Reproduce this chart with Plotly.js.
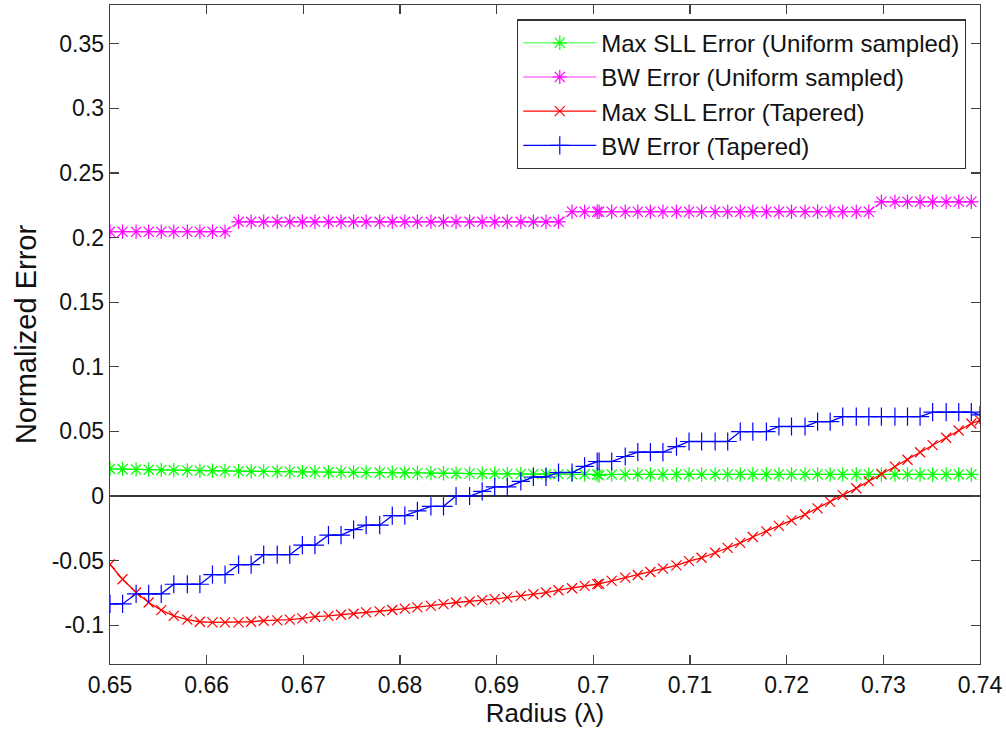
<!DOCTYPE html>
<html>
<head>
<meta charset="utf-8">
<script src="https://cdn.plot.ly/plotly-3.0.1.min.js"></script>
<style>
  html, body { margin: 0; padding: 0; background: #ffffff; }
  #chart { width: 1006px; height: 734px; }
</style>
</head>
<body>
<div id="chart"></div>
<script>
// Radius samples (lambda) for the uniform-sampled series
const radiusUniform = [
  0.6500, 0.6513, 0.6527, 0.6540, 0.6553, 0.6566, 0.6580, 0.6593, 0.6606, 0.6619,
  0.6633, 0.6646, 0.6659, 0.6673, 0.6686, 0.6699, 0.6712, 0.6726, 0.6739, 0.6752,
  0.6765, 0.6779, 0.6792, 0.6805, 0.6818, 0.6832, 0.6845, 0.6858, 0.6872, 0.6885,
  0.6898, 0.6911, 0.6925, 0.6938, 0.6951, 0.6964, 0.6978, 0.6991, 0.7004,
  0.7006, 0.7019, 0.7033, 0.7046, 0.7059, 0.7072, 0.7086, 0.7099, 0.7112, 0.7126,
  0.7139, 0.7152, 0.7165, 0.7179, 0.7192, 0.7205, 0.7219, 0.7232, 0.7245, 0.7258,
  0.7272, 0.7285, 0.7298, 0.7312, 0.7325, 0.7338, 0.7351, 0.7365, 0.7378, 0.7391
];
// Radius samples (lambda) for the tapered series
const radiusTapered = [
  0.6500, 0.6513, 0.6527, 0.6540, 0.6553, 0.6566, 0.6580, 0.6593, 0.6606, 0.6619,
  0.6633, 0.6646, 0.6659, 0.6673, 0.6686, 0.6699, 0.6712, 0.6726, 0.6739, 0.6752,
  0.6765, 0.6779, 0.6792, 0.6805, 0.6818, 0.6832, 0.6845, 0.6858, 0.6872, 0.6885,
  0.6898, 0.6911, 0.6925, 0.6938, 0.6951, 0.6964, 0.6978, 0.6991, 0.7004,
  0.7006, 0.7019, 0.7033, 0.7046, 0.7059, 0.7072, 0.7086, 0.7099, 0.7112, 0.7126,
  0.7139, 0.7152, 0.7165, 0.7179, 0.7192, 0.7205, 0.7219, 0.7232, 0.7245, 0.7258,
  0.7272, 0.7285, 0.7298, 0.7312, 0.7325, 0.7338, 0.7351, 0.7365, 0.7378, 0.7391,
  0.7400
];

// Max SLL error, uniform sampled
const sllUniform = [
  0.0210, 0.0208, 0.0206, 0.0204, 0.0202, 0.0200, 0.0198, 0.0196, 0.0195, 0.0194,
  0.0192, 0.0191, 0.0190, 0.0189, 0.0188, 0.0187, 0.0186, 0.0185, 0.0184, 0.0183,
  0.0182, 0.0181, 0.0180, 0.0179, 0.0178, 0.0177, 0.0176, 0.0175, 0.0174, 0.0173,
  0.0172, 0.0171, 0.0170, 0.0170, 0.0169, 0.0169, 0.0168, 0.0168, 0.0167,
  0.0160, 0.0167, 0.0167, 0.0167, 0.0167, 0.0167, 0.0167, 0.0167, 0.0167, 0.0167,
  0.0167, 0.0167, 0.0167, 0.0167, 0.0167, 0.0167, 0.0167, 0.0167, 0.0167, 0.0167,
  0.0167, 0.0167, 0.0167, 0.0167, 0.0167, 0.0167, 0.0167, 0.0167, 0.0167, 0.0167
];
// BW error, uniform sampled
const bwUniform = [
  0.2045, 0.2045, 0.2045, 0.2045, 0.2045, 0.2045, 0.2045, 0.2045, 0.2045, 0.2045,
  0.2122, 0.2122, 0.2122, 0.2122, 0.2122, 0.2122, 0.2122, 0.2122, 0.2122, 0.2122,
  0.2122, 0.2122, 0.2122, 0.2122, 0.2122, 0.2122, 0.2122, 0.2122, 0.2122, 0.2122,
  0.2122, 0.2122, 0.2122, 0.2122, 0.2122, 0.2122, 0.2200, 0.2200, 0.2200,
  0.2200, 0.2200, 0.2200, 0.2200, 0.2200, 0.2200, 0.2200, 0.2200, 0.2200, 0.2200,
  0.2200, 0.2200, 0.2200, 0.2200, 0.2200, 0.2200, 0.2200, 0.2200, 0.2200, 0.2200,
  0.2200, 0.2200, 0.2277, 0.2277, 0.2277, 0.2277, 0.2277, 0.2277, 0.2277, 0.2277
];
// Max SLL error, tapered
const sllTapered = [
  -0.0529, -0.0644, -0.0747, -0.0824, -0.0883, -0.0927, -0.0957, -0.0973, -0.0978, -0.0978,
  -0.0978, -0.0973, -0.0965, -0.0962, -0.0957, -0.0947, -0.0934, -0.0927, -0.0919, -0.0911,
  -0.0901, -0.0893, -0.0882, -0.0872, -0.0862, -0.0850, -0.0837, -0.0824, -0.0816, -0.0806,
  -0.0798, -0.0785, -0.0773, -0.0760, -0.0747, -0.0729, -0.0714, -0.0696, -0.0682,
  -0.0679, -0.0657, -0.0632, -0.0611, -0.0588, -0.0562, -0.0537, -0.0504, -0.0478, -0.0439,
  -0.0401, -0.0362, -0.0317, -0.0274, -0.0231, -0.0188, -0.0143, -0.0095, -0.0045, 0.0007,
  0.0060, 0.0115, 0.0171, 0.0227, 0.0281, 0.0339, 0.0394, 0.0451, 0.0507, 0.0561,
  0.0586
];
// BW error, tapered
const bwTapered = [
  -0.0835, -0.0835, -0.0757, -0.0757, -0.0757, -0.0683, -0.0683, -0.0683, -0.0608, -0.0608,
  -0.0531, -0.0531, -0.0454, -0.0454, -0.0454, -0.0380, -0.0380, -0.0303, -0.0303, -0.0260,
  -0.0226, -0.0226, -0.0152, -0.0152, -0.0115, -0.0080, -0.0080, 0.0000, 0.0000, 0.0036,
  0.0070, 0.0070, 0.0113, 0.0147, 0.0147, 0.0182, 0.0182, 0.0229, 0.0267,
  0.0267, 0.0267, 0.0306, 0.0340, 0.0340, 0.0340, 0.0383, 0.0422, 0.0422, 0.0422,
  0.0422, 0.0499, 0.0499, 0.0499, 0.0538, 0.0538, 0.0538, 0.0576, 0.0576, 0.0615,
  0.0615, 0.0615, 0.0615, 0.0615, 0.0615, 0.0615, 0.0649, 0.0649, 0.0649, 0.0649,
  0.0628
];

const seriesNames = [
  'Max SLL Error (Uniform sampled)',
  'BW Error (Uniform sampled)',
  'Max SLL Error (Tapered)',
  'BW Error (Tapered)'
];
const xTickVals = [0.65, 0.66, 0.67, 0.68, 0.69, 0.70, 0.71, 0.72, 0.73, 0.74];
const xTickText = ['0.65', '0.66', '0.67', '0.68', '0.69', '0.7', '0.71', '0.72', '0.73', '0.74'];
const yTickVals = [-0.1, -0.05, 0, 0.05, 0.1, 0.15, 0.2, 0.25, 0.3, 0.35];
const yTickText = ['-0.1', '-0.05', '0', '0.05', '0.1', '0.15', '0.2', '0.25', '0.3', '0.35'];

const FONT = '"Liberation Sans", Arial, sans-serif';

function mk(x, y, name, color, symbol, msize, lw) {
  return {
    type: 'scatter', mode: 'lines+markers', x: x, y: y, name: name,
    line: { color: color, width: lw },
    marker: { symbol: symbol, size: msize, color: color,
              line: { color: color, width: 1.2 } }
  };
}

const traces = [
  mk(radiusUniform, sllUniform, seriesNames[0], '#00ff00', 'asterisk-open', 12, 0.8),
  mk(radiusUniform, bwUniform, seriesNames[1], '#ff00ff', 'asterisk-open', 12, 0.8),
  mk(radiusTapered, sllTapered, seriesNames[2], '#ff0000', 'x-thin-open', 10, 1.3),
  mk(radiusTapered, bwTapered, seriesNames[3], '#0000ff', 'cross-thin-open', 13, 1.3)
];

const axisCommon = {
  showgrid: false,
  showline: true, linecolor: '#404040', linewidth: 1.3,
  mirror: 'ticks', ticks: 'inside', ticklen: 9, tickwidth: 1.2, tickcolor: '#404040',
  tickfont: { family: FONT, size: 23, color: '#111' },
  zeroline: false
};

const layout = {
  width: 1006, height: 734,
  paper_bgcolor: '#ffffff', plot_bgcolor: '#ffffff',
  margin: { l: 110, r: 26, t: 5, b: 69.5 },
  font: { family: FONT, color: '#111' },
  showlegend: true,
  legend: {
    x: 0.984, xanchor: 'right', y: 0.978, yanchor: 'top',
    bgcolor: '#ffffff', bordercolor: '#333', borderwidth: 1.2,
    font: { family: FONT, size: 24, color: '#111' },
    itemwidth: 73, tracegroupgap: 0
  },
  xaxis: Object.assign({}, axisCommon, {
    range: [0.65, 0.74], tickmode: 'array', tickvals: xTickVals, ticktext: xTickText,
    title: { text: 'Radius (λ)', font: { family: FONT, size: 26, color: '#111' }, standoff: 6 }
  }),
  yaxis: Object.assign({}, axisCommon, {
    range: [-0.13, 0.38], tickmode: 'array', tickvals: yTickVals, ticktext: yTickText,
    zeroline: true, zerolinecolor: '#333', zerolinewidth: 1.5,
    title: { text: 'Normalized Error', font: { family: FONT, size: 29, color: '#111' }, standoff: 6 }
  })
};

Plotly.newPlot('chart', traces, layout, { displayModeBar: false, staticPlot: true });
</script>
</body>
</html>
